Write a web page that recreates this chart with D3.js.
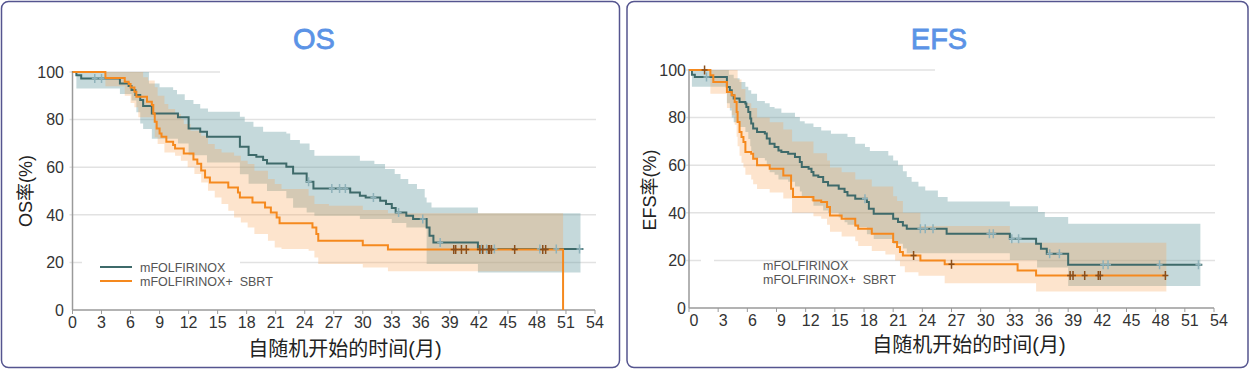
<!DOCTYPE html>
<html>
<head>
<meta charset="utf-8">
<script src="https://cdn.jsdelivr.net/npm/d3@7"></script>
<style>
  body { margin: 0; background: #fff; }
  text { font-family: "Liberation Sans", Arial, "Noto Sans CJK SC", sans-serif; }
</style>
</head>
<body>
<script>
var width = 1252;
var height = 374;

var TEAL = "#3e6a6a";
var ORANGE = "#f5891e";

var xTicks = d3.range(0, 55, 3);
var yTicks = [0, 20, 40, 60, 80, 100];
var legendLabels = ["mFOLFIRINOX", "mFOLFIRINOX+  SBRT"];

// ---- OS: [month, %] step points ----
var osTeal = [[0,100],[0.4,98.6],[0.9,97.3],[4.9,95.2],[5.8,94.1],[6.1,92.4],[6.5,90.3],[7.0,88.2],[7.3,85.7],[8.2,82.6],[10.9,81.0],[12.0,76.3],[13.2,74.9],[13.9,72.8],[17.3,68.6],[18.2,65.1],[19.0,64.4],[19.7,63.0],[20.1,61.6],[22.1,60.2],[22.8,57.4],[24.2,53.9],[24.9,51.1],[28.7,49.4],[29.7,48.0],[30.3,47.3],[31.8,45.9],[32.4,44.5],[33.0,42.9],[33.4,41.0],[34.5,39.6],[35.2,38.2],[36.6,34.7],[36.9,31.2],[37.3,28.4],[41.9,25.6],[52.8,25.6]];
var osTealCensor = [2.3, 3.0, 24.4, 26.8, 27.6, 28.2, 31.1, 33.7, 36.2, 38.0, 42.3, 42.8, 43.6, 48.3, 50.0, 52.4];
var osTealUpper = [[0,100],[7.9,95.2],[9.0,93.6],[10.4,92.4],[10.8,90.6],[11.6,88.2],[12.5,86.6],[13.2,84.7],[14.0,83.3],[17.3,81.2],[17.8,79.1],[18.7,77.0],[19.7,74.9],[22.1,74.2],[22.5,71.4],[23.5,70.0],[24.5,67.2],[25.0,64.8],[29.7,62.7],[31.2,61.3],[32.3,59.2],[33.3,57.1],[33.9,55.0],[34.7,52.9],[35.6,50.8],[36.4,47.3],[36.6,45.2],[37.1,43.1],[41.9,40.6],[52.5,40.6]];
var osTealLower = [[0,100],[0.4,93.1],[4.9,90.8],[6.1,88.0],[6.6,83.1],[7.0,78.4],[7.3,76],[8.2,72],[10.9,70],[12.0,65],[13.9,62],[17.3,57],[18.2,53],[20.1,50],[22.1,47],[22.8,43],[24.2,41],[25.0,39.6],[29.7,38.2],[33.0,36.6],[34.5,34.7],[36.6,19.3],[41.9,15.8],[52.5,15.8]];

var osOrange = [[0,100],[3.4,97.5],[5.4,95.9],[5.8,95.0],[6.0,93.5],[6.4,91.7],[6.6,89.6],[7.7,87.5],[8.2,86.1],[8.35,82.6],[8.5,79.1],[8.7,76.3],[9.0,74.2],[9.2,72.8],[9.7,70.7],[10.4,69.3],[10.6,67.9],[11.5,65.8],[12.5,63.2],[12.9,61.4],[13.3,58.6],[13.7,55.7],[14.2,53.6],[16.1,51.5],[17.1,49.4],[17.3,47.3],[18.6,45.2],[19.9,43.1],[20.5,41.0],[21.1,38.9],[21.4,36.4],[24.8,34.7],[25.2,31.9],[25.4,29.1],[30.0,27.2],[32.6,25.4],[50.7,0]];
var osOrangeCensor = [39.4, 39.6, 40.2, 40.7, 42.1, 42.4, 43.0, 43.1, 43.3, 45.7, 48.6, 48.9];
var osOrangeUpper = [[0,100],[7.3,97.8],[7.8,96.4],[8.5,93.6],[8.8,90.0],[9.5,86.6],[9.9,84.5],[10.6,82.4],[11.2,80.2],[11.5,78.2],[12.2,75.3],[13.3,73.2],[14.0,69.7],[14.7,67.6],[15.4,66.2],[16.7,64.8],[17.4,62.7],[18.1,61.3],[18.8,58.5],[20.2,55.0],[20.9,52.9],[21.6,50.8],[24.4,48.0],[25.0,44.5],[26.5,43.8],[30.0,42.0],[32.6,40.6],[50.7,40.6]];
var osOrangeLower = [[0,100],[3.4,94],[5.4,90],[6.0,87],[6.4,85.2],[6.8,81.0],[8.5,72.6],[8.8,69.7],[9.5,66.2],[10.6,64.8],[11.2,62.7],[11.9,60.0],[12.6,57.1],[13.3,53.6],[14.0,50.1],[14.7,47.3],[15.4,44.5],[16.1,41.7],[16.7,38.9],[17.4,36.8],[18.1,34.7],[18.8,31.9],[20.2,29.1],[20.9,26.3],[21.6,25.6],[24.4,24.9],[25.0,22.1],[25.4,19.3],[30.0,17.9],[32.6,16.3],[50.7,16.3]];

// ---- EFS ----
var efsTeal = [[0,100],[0.3,98.0],[0.6,97.1],[3.9,92.9],[4.2,91.5],[4.4,89.4],[4.6,88.0],[5.2,86.6],[5.8,85.9],[5.9,84.5],[6.1,82.4],[6.3,79.6],[6.4,77.5],[6.6,75.4],[7.0,74.0],[7.8,73.3],[8.0,71.2],[8.3,69.0],[8.8,67.6],[9.2,66.2],[9.5,65.5],[10.2,64.8],[10.9,63.4],[11.4,61.3],[11.6,59.2],[12.3,58.5],[12.6,57.1],[12.8,55.7],[13.3,55.0],[13.8,52.9],[14.3,51.5],[15.4,50.1],[16.0,48.7],[16.3,47.3],[17.1,45.9],[18.3,44.5],[18.5,41.7],[19.0,39.6],[21.0,37.5],[21.5,36.1],[22.0,34.7],[22.4,33.3],[26.5,31.2],[33.0,29.1],[35.7,27.0],[36.2,24.9],[36.8,22.8],[39.0,18.2],[52.8,18.2]];
var efsTealCensor = [1.8, 18.1, 23.8, 24.3, 25.1, 30.9, 31.3, 33.2, 33.9, 37.1, 38.1, 42.6, 43.1, 48.4, 52.4];
var efsTealUpper = [[0,100],[4.1,98],[4.6,96.5],[5.2,95],[5.8,93],[6.1,91.5],[6.4,90],[7.0,87],[7.8,86],[8.3,84.5],[8.8,83.8],[9.5,82],[10.9,80.2],[11.4,78.5],[11.9,77.5],[12.8,76],[13.6,74.6],[14.6,73.2],[16.3,71.8],[17.1,69],[18.1,67.6],[18.6,66],[20.5,64.1],[21.0,62],[21.5,60],[22.0,57.5],[22.4,55],[22.9,53],[23.6,51],[24.3,49.4],[25.6,46.6],[26.6,44.8],[33.0,42.7],[35.9,40.3],[36.6,38.2],[39.0,35.4],[52.6,35.4]];
var efsTealLower = [[0,100],[0.3,93],[3.9,86],[4.2,83],[4.4,80],[4.6,78],[5.2,76],[5.8,74],[6.1,71],[6.3,68],[6.4,66],[6.6,63],[7.8,62],[8.0,60],[8.3,57],[8.8,56],[9.2,54],[10.2,53],[10.9,51],[11.4,49],[11.6,47],[12.6,45],[12.8,43],[13.8,41],[14.3,40],[15.4,38],[16.0,36],[16.3,35],[17.1,34],[18.3,31],[19.0,29],[21.0,27],[22.0,25],[22.4,23],[33.0,20.2],[35.8,17],[39.0,9.2],[52.6,9.2]];

var efsOrange = [[0,100],[2.2,97.8],[2.5,95.0],[3.9,90.8],[4.4,89.4],[4.7,86.6],[4.9,82.4],[5.0,78.2],[5.2,74.0],[5.4,71.8],[5.6,69.7],[5.8,65.5],[6.4,64.8],[6.6,62.7],[7.0,60.0],[8.3,58.5],[9.7,55.7],[10.5,50.1],[10.7,46.6],[12.8,45.2],[13.6,44.5],[14.2,42.4],[14.5,38.9],[15.7,37.5],[17.1,34.7],[17.4,33.3],[18.8,31.2],[21.0,27.7],[21.4,25.6],[21.7,23.5],[22.0,22.1],[23.8,20.0],[26.3,18.4],[33.8,15.8],[35.7,13.7],[49.1,13.7]];
var efsOrangeCensor = [1.6, 23.1, 27.0, 39.2, 39.5, 40.7, 42.1, 42.3, 49.0];
var efsOrangeUpper = [[0,100],[5.0,96],[5.4,92],[5.8,86],[6.4,84],[7.0,80],[8.3,78],[9.7,75],[10.6,70],[12.8,65],[14.2,62],[14.5,59],[15.7,57],[17.1,54],[18.8,51],[21.0,47],[21.4,45],[22.0,40],[23.8,34.5],[33.0,27.4],[49.1,27.4]];
var efsOrangeLower = [[0,100],[2.2,90],[3.9,84],[4.4,81],[4.7,77],[4.9,72],[5.0,68],[5.2,64],[5.4,61],[5.6,59],[5.8,56],[6.4,54],[6.6,52],[7.0,50],[8.3,48.5],[9.7,46],[10.6,40],[12.8,38.5],[13.6,37.5],[14.2,35],[14.5,32],[15.7,30],[17.1,28],[17.4,26],[18.8,24],[20.2,22.5],[21.2,20],[21.7,17.5],[22.2,15],[23.6,13.5],[26.3,10.4],[35.7,6.9],[49.1,6.9]];

var svg = d3.select("body")
  .append("svg")
  .attr("width", width)
  .attr("height", height);

function stepValue(arr, t) {
  var v = arr[0][1];
  for (var i = 0; i < arr.length; i++) {
    if (arr[i][0] <= t) v = arr[i][1];
  }
  return v;
}

function bandData(upper, lower) {
  var end = Math.min(upper[upper.length-1][0], lower[lower.length-1][0]);
  var times = Array.from(new Set(upper.map(d => d[0]).concat(lower.map(d => d[0]))))
    .filter(t => t <= end)
    .sort((a, b) => a - b);
  return times.map(t => ({t: t, hi: stepValue(upper, t), lo: stepValue(lower, t)}));
}

function drawPanel(p) {
  var x = d3.scaleLinear().domain([0, 54]).range([p.x0, p.x1]);
  var y = d3.scaleLinear().domain([0, 100]).range([p.y0, p.y1]);
  var g = svg.append("g");

  // card
  g.append("rect")
    .attr("x", p.card[0]).attr("y", p.card[1])
    .attr("width", p.card[2]).attr("height", p.card[3])
    .attr("rx", 7)
    .attr("fill", "#fff")
    .attr("stroke", "#55558f")
    .attr("stroke-width", 1.5);

  g.append("text")
    .attr("x", p.titleX).attr("y", 49)
    .attr("text-anchor", "middle")
    .attr("font-size", 29)
    .attr("fill", "#5b93e6")
    .attr("stroke", "#5b93e6")
    .attr("stroke-width", 0.8)
    .text(p.title);

  // grid
  yTicks.filter(v => v > 0).forEach(function(v) {
    g.append("line")
      .attr("x1", x(0) - 3).attr("x2", v === 100 ? p.topGridEnd : x(54) + 1)
      .attr("y1", y(v)).attr("y2", y(v))
      .attr("stroke", "#e2e2e2")
      .attr("stroke-width", 1.5);
  });

  // legend background
  g.append("rect")
    .attr("x", p.legendBox[0]).attr("y", p.legendBox[1])
    .attr("width", p.legendBox[2]).attr("height", p.legendBox[3])
    .attr("fill", "#fff");

  // confidence bands
  var area = d3.area()
    .x(d => x(d.t))
    .y0(d => y(d.lo))
    .y1(d => y(d.hi))
    .curve(d3.curveStepAfter);

  g.append("path")
    .datum(bandData(p.tealUpper, p.tealLower))
    .attr("d", area)
    .attr("fill", "#6ea0a5")
    .attr("fill-opacity", 0.4);

  g.append("path")
    .datum(bandData(p.orangeUpper, p.orangeLower))
    .attr("d", area)
    .attr("fill", "#f9a45a")
    .attr("fill-opacity", 0.3);

  // axes
  g.append("line")
    .attr("x1", x(0)).attr("x2", x(0))
    .attr("y1", y(100) - 1).attr("y2", y(0))
    .attr("stroke", "#9a9a9a").attr("stroke-width", 1.5);
  g.append("line")
    .attr("x1", x(0)).attr("x2", x(54))
    .attr("y1", y(0)).attr("y2", y(0))
    .attr("stroke", "#9a9a9a").attr("stroke-width", 1.5);

  g.selectAll(".xt")
    .data(xTicks)
    .enter()
    .append("line")
      .attr("x1", d => x(d)).attr("x2", d => x(d))
      .attr("y1", y(0)).attr("y2", y(0) + 4)
      .attr("stroke", "#9a9a9a");

  g.selectAll(".xl")
    .data(xTicks)
    .enter()
    .append("text")
      .attr("x", d => x(d) + p.xLabelShift)
      .attr("y", y(0) + 18)
      .attr("text-anchor", "middle")
      .attr("font-size", 16)
      .attr("fill", "#333")
      .text(d => d);

  g.selectAll(".yl")
    .data(yTicks)
    .enter()
    .append("text")
      .attr("x", p.yLabelEnd)
      .attr("y", d => y(d))
      .attr("dy", "0.36em")
      .attr("text-anchor", "end")
      .attr("font-size", 16)
      .attr("fill", "#333")
      .text(d => d);

  g.append("text")
    .attr("x", p.xTitle[0]).attr("y", p.xTitle[1])
    .attr("text-anchor", "middle")
    .attr("font-size", 20)
    .attr("fill", "#222")
    .text("自随机开始的时间(月)");

  g.append("text")
    .attr("transform", `translate(${p.yTitle[0]},${p.yTitle[1]}) rotate(-90)`)
    .attr("text-anchor", "middle")
    .attr("dy", "0.35em")
    .attr("font-size", 18)
    .attr("fill", "#222")
    .text(p.yTitleText);

  // KM curves
  var line = d3.line()
    .x(d => x(d[0]))
    .y(d => y(d[1]))
    .curve(d3.curveStepAfter);

  g.append("path").datum(p.teal).attr("d", line)
    .attr("fill", "none").attr("stroke", TEAL).attr("stroke-width", 2);
  g.append("path").datum(p.orange).attr("d", line)
    .attr("fill", "none").attr("stroke", ORANGE).attr("stroke-width", 2);

  function censor(times, curve, color) {
    g.selectAll(null)
      .data(times)
      .enter()
      .append("path")
        .attr("d", function(t) {
          var cx = x(t), cy = y(stepValue(curve, t));
          return `M${cx},${cy-4.5}V${cy+4.5}M${cx-3},${cy}H${cx+3}`;
        })
        .attr("stroke", color)
        .attr("stroke-width", 1.5)
        .attr("fill", "none");
  }
  censor(p.tealCensor, p.teal, "#8fb2ba");
  censor(p.orangeCensor, p.orange, "#8a4e1a");

  // legend
  if (p.legendLines) {
    [TEAL, ORANGE].forEach(function(c, i) {
      g.append("line")
        .attr("x1", p.legendX - 40).attr("x2", p.legendX - 8)
        .attr("y1", p.legendY + i * 14).attr("y2", p.legendY + i * 14)
        .attr("stroke", c).attr("stroke-width", 2);
    });
  }
  legendLabels.forEach(function(s, i) {
    g.append("text")
      .attr("x", p.legendX)
      .attr("y", p.legendY + i * 14)
      .attr("dy", "0.36em")
      .attr("font-size", 12.5)
      .attr("fill", "#555")
      .attr("xml:space", "preserve")
      .style("white-space", "pre")
      .text(s);
  });
}

drawPanel({
  title: "OS", titleX: 314,
  card: [1.5, 1.5, 618, 366],
  x0: 72.5, x1: 595, y0: 310, y1: 72,
  topGridEnd: 220,
  xLabelShift: 0, yLabelEnd: 64,
  xTitle: [345, 356], yTitle: [26, 191], yTitleText: "OS率(%)",
  legendBox: [82, 252, 158, 44],
  legendLines: true, legendX: 140, legendY: 267,
  teal: osTeal, tealCensor: osTealCensor, tealUpper: osTealUpper, tealLower: osTealLower,
  orange: osOrange, orangeCensor: osOrangeCensor, orangeUpper: osOrangeUpper, orangeLower: osOrangeLower
});

drawPanel({
  title: "EFS", titleX: 939,
  card: [627, 1.5, 621, 366],
  x0: 689, x1: 1214, y0: 308, y1: 70,
  topGridEnd: 935,
  xLabelShift: 5, yLabelEnd: 686,
  xTitle: [969, 352], yTitle: [650, 190], yTitleText: "EFS率(%)",
  legendBox: [701, 256, 13, 8],
  legendLines: false, legendX: 763, legendY: 265,
  teal: efsTeal, tealCensor: efsTealCensor, tealUpper: efsTealUpper, tealLower: efsTealLower,
  orange: efsOrange, orangeCensor: efsOrangeCensor, orangeUpper: efsOrangeUpper, orangeLower: efsOrangeLower
});
</script>
</body>
</html>
